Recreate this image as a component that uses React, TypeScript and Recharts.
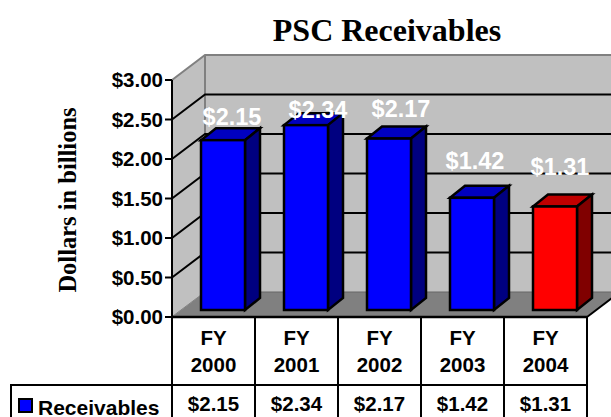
import React from "react";
import { BarChart, Bar, XAxis, YAxis, ReferenceArea, LabelList } from "recharts";

const categories = ["2000", "2001", "2002", "2003", "2004"];
const receivables = [2.15, 2.34, 2.17, 1.42, 1.31];
const yTicks = [0, 0.5, 1, 1.5, 2, 2.5, 3];
const gridValues = [0.5, 1, 1.5, 2, 2.5];
const frontColors = ["#0000FF", "#0000FF", "#0000FF", "#0000FF", "#FF0000"];
const topColors = ["#0000C0", "#0000C0", "#0000C0", "#0000C0", "#C00000"];
const sideColors = ["#000080", "#000080", "#000080", "#000080", "#800000"];

const data = categories.map((c, i) => ({ year: c, value: receivables[i] }));

const W = 611, H = 417;
const LEFT = 172, RIGHT_EDGE = 587, TOP = 80, BASE = 317;
const CELL = (RIGHT_EDGE - LEFT) / categories.length;
const DX = 33, DY = 25;
const BAR_DX = 9, BAR_DY = 7, SIDE_DX = 15, SIDE_DY = 12;
const labelShiftX = [9, 12, 12, 3, 5];
const labelShiftY = [-23, -15, -30, -37, -40];
const fmt = (v: number) => `$${v.toFixed(2)}`;
const SANS = "'Liberation Sans', Arial, sans-serif";
const SERIF = "'Liberation Serif', 'Times New Roman', serif";
const GRAY = "#808080";

function Walls(props: any) {
  const { x, y, width, height } = props;
  const r = x + width, b = y + height;
  return (
    <g>
      <polygon points={`${x},${y} ${x + DX},${y - DY} ${x + DX},${b - DY} ${x},${b}`} fill="#C0C0C0" />
      <polygon points={`${x + DX},${y - DY} ${W + 10},${y - DY} ${W + 10},${b - DY} ${x + DX},${b - DY}`} fill="#C0C0C0" />
      <polygon points={`${x},${b} ${x + DX},${b - DY} ${r + DX},${b - DY} ${r},${b}`} fill={GRAY} />
      <polyline points={`${x},${y} ${x + DX},${y - DY} ${W + 10},${y - DY}`} fill="none" stroke={GRAY} strokeWidth={2} />
      <line x1={x + DX} y1={y - DY} x2={x + DX} y2={b - DY} stroke={GRAY} strokeWidth={2} />
      <line x1={x + 1} y1={b - 1} x2={x + DX} y2={b - DY} stroke={GRAY} strokeWidth={1} />
      <line x1={x + DX} y1={b - DY} x2={W + 10} y2={b - DY} stroke="#666" strokeWidth={1} />
      <line x1={r} y1={b} x2={r + DX} y2={b - DY} stroke="#000" strokeWidth={2} />
    </g>
  );
}

// The band's upper edge sits at the grid value, read through the chart's y scale.
function GridShape(props: any) {
  const { x, y } = props;
  return (
    <polyline points={`${x},${y} ${x + DX},${y - DY} ${W + 10},${y - DY}`} fill="none" stroke="#000" strokeWidth={2} />
  );
}

function Bar3D(props: any) {
  const { x, y, width, height, index } = props;
  const l = x + BAR_DX, t = y - BAR_DY, r = l + width, b = t + height;
  return (
    <g stroke="#000" strokeWidth={2.5} strokeLinejoin="miter">
      <polygon points={`${l},${t} ${l + SIDE_DX},${t - SIDE_DY} ${r + SIDE_DX},${t - SIDE_DY} ${r},${t}`} fill={topColors[index]} />
      <polygon points={`${r},${t} ${r + SIDE_DX},${t - SIDE_DY} ${r + SIDE_DX},${b - SIDE_DY} ${r},${b}`} fill={sideColors[index]} />
      <rect x={l} y={t} width={width} height={height} fill={frontColors[index]} />
    </g>
  );
}

function DataLabel(props: any) {
  const { x, y, width, index, value } = props;
  return (
    <text
      x={x + width / 2 + BAR_DX + labelShiftX[index]}
      y={y - BAR_DY + labelShiftY[index]}
      textAnchor="middle"
      dominantBaseline="central"
      fill="#fff"
      stroke="none"
      fontFamily={SANS}
      fontWeight={700}
      fontSize={23.5}
    >
      {fmt(value)}
    </text>
  );
}

function TableTick(props: any) {
  const { x, payload } = props;
  const i = payload.index;
  const boxTop = 385;
  const row = {
    fontFamily: SANS,
    fontWeight: 700,
    fontSize: 20.5,
    fill: "#000",
    textAnchor: "middle" as const,
    dominantBaseline: "central" as const,
  };
  return (
    <g>
      <text x={x} y={337} {...row}>FY</text>
      <text x={x} y={364} {...row}>{payload.value}</text>
      <text x={x} y={403} {...row}>{fmt(receivables[i])}</text>
      <line x1={x + CELL / 2} y1={BASE} x2={x + CELL / 2} y2={H} stroke="#000" strokeWidth={2} />
      {i === 0 && (
        <g>
          <line x1={x - CELL / 2} y1={BASE} x2={x - CELL / 2} y2={H} stroke="#000" strokeWidth={2} />
          <polyline points={`11,${H} 11,${boxTop} ${RIGHT_EDGE},${boxTop}`} fill="none" stroke="#000" strokeWidth={2} />
          <rect x={19} y={399} width={13} height={13} fill="#0000FF" stroke="#000" strokeWidth={2} />
          <text x={38} y={407} fontFamily={SANS} fontWeight={700} fontSize={21} dominantBaseline="central" fill="#000">Receivables</text>
        </g>
      )}
    </g>
  );
}

export default function App() {
  return (
    <div style={{ position: "absolute", left: 0, top: 0, width: W, height: H, overflow: "hidden", background: "#fff" }}>
      <BarChart
        width={W}
        height={H}
        data={data}
        margin={{ top: TOP, right: W - RIGHT_EDGE, bottom: 0, left: 0 }}
        barCategoryGap={0}
      >
        <XAxis
          dataKey="year"
          height={H - BASE}
          interval={0}
          tickLine={false}
          axisLine={{ stroke: "#000", strokeWidth: 2.5 }}
          tick={<TableTick />}
        />
        <YAxis
          width={LEFT}
          domain={[0, 3]}
          ticks={yTicks}
          interval={0}
          tickFormatter={fmt}
          tickSize={7}
          tickMargin={2}
          tickLine={{ stroke: "#000", strokeWidth: 2 }}
          axisLine={{ stroke: "#000", strokeWidth: 2 }}
          tick={{ fill: "#000", fontFamily: SANS, fontWeight: 700, fontSize: 20.5 }}
        />
        <ReferenceArea y1={0} y2={3} ifOverflow="visible" shape={<Walls />} />
        {gridValues.map((v) => (
          <ReferenceArea key={v} y1={0} y2={v} ifOverflow="visible" shape={<GridShape />} />
        ))}
        <Bar dataKey="value" barSize={44} isAnimationActive={false} shape={<Bar3D />}>
          <LabelList dataKey="value" content={<DataLabel />} />
        </Bar>
        <text x={387} y={30} textAnchor="middle" dominantBaseline="central" fontFamily={SERIF} fontWeight={700} fontSize={32} fill="#000">PSC Receivables</text>
        <text transform="translate(67,200) rotate(-90)" textAnchor="middle" dominantBaseline="central" fontFamily={SERIF} fontWeight={700} fontSize={24.5} fill="#000">Dollars in billions</text>
      </BarChart>
    </div>
  );
}
